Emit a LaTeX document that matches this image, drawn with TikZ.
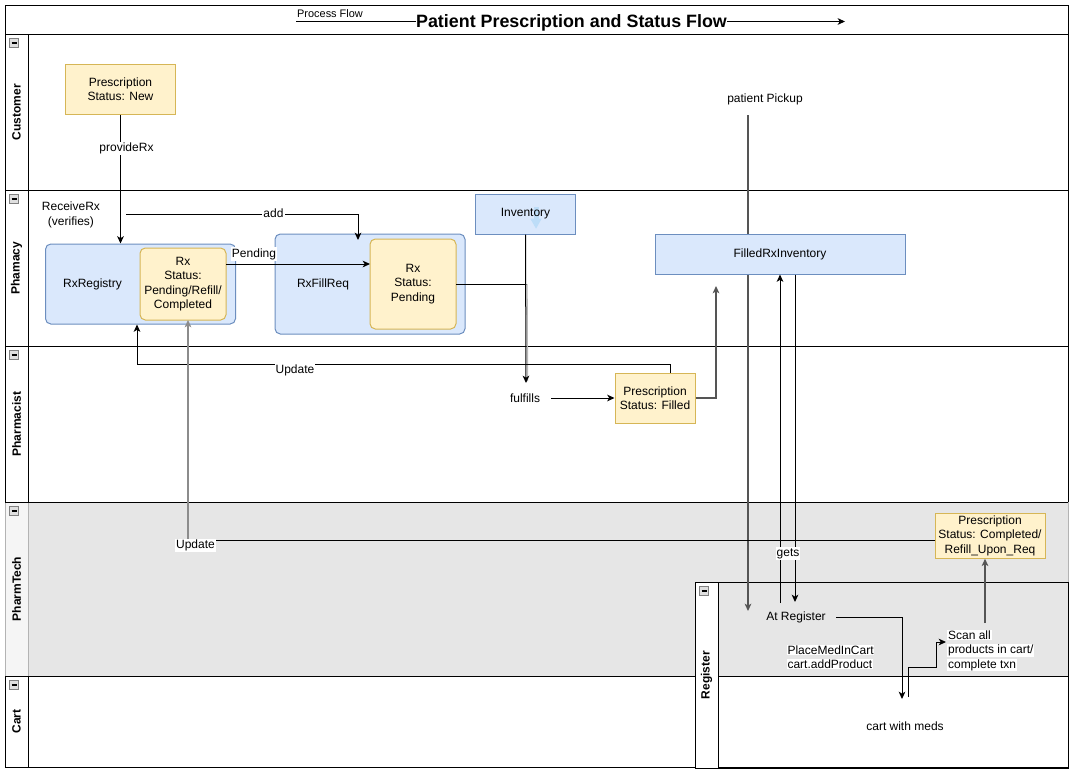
\documentclass[tikz,border=0pt]{standalone}
\usepackage{fontspec}
\setmainfont{Liberation Sans}
\usetikzlibrary{arrows.meta,calc}
\definecolor{yfill}{HTML}{FFF2CC}
\definecolor{ydraw}{HTML}{D6B656}
\definecolor{bfill}{HTML}{DAE8FC}
\definecolor{bdraw}{HTML}{6C8EBF}
\definecolor{techfill}{HTML}{E6E6E6}
\definecolor{techhead}{HTML}{F5F5F5}
\definecolor{techline}{HTML}{B3B3B3}
\definecolor{faintblue}{HTML}{BDDDF8}
\definecolor{midgray}{HTML}{8C8C8C}
\definecolor{darkgr}{HTML}{555555}
\newcommand\whitebg[1]{{\setlength{\fboxsep}{0.6pt}\colorbox{white}{#1}}}
\tikzset{
  collapsebox/.pic={
    \draw[draw=gray, fill=gray!25, line width=0.5pt] (-4.5,-4.5) rectangle (4.5,4.5);
    \draw[line width=1pt] (-2.5,0) -- (2.5,0);
  }
}
\begin{document}
\begin{tikzpicture}[x=0.75pt,y=-0.75pt,
  every node/.style={font=\fontsize{9}{10.8}\selectfont, inner sep=1pt},
  lane/.style={draw=black, line width=0.75pt},
  lanelabel/.style={rotate=90, font=\bfseries\fontsize{9}{10.8}\selectfont},
  arr/.style={-{Stealth[length=5.5pt,width=5pt,inset=1.5pt]}},
  conn/.style={draw=black, line width=0.75pt},
  grayconn/.style={draw=midgray, line width=1.5pt},
  dgconn/.style={draw=darkgr, line width=1pt},
  yellowbox/.style={draw=ydraw, fill=yfill, line width=0.75pt, align=center, inner sep=0pt},
  yellowround/.style={yellowbox, rounded corners=4pt},
  bluebox/.style={draw=bdraw, fill=bfill, line width=0.75pt, align=center, inner sep=0pt},
  blueround/.style={bluebox, rounded corners=4pt},
  lbl/.style={fill=white, inner sep=0.8pt},
  plain/.style={align=center, inner sep=0.5pt}
]
\useasboundingbox (0,0) rectangle (1074,782);
\fill[white] (0,0) rectangle (1074,782);

% ---------- title band ----------
\draw[lane] (5,5) rectangle (1068,34);

% ---------- lanes ----------
\draw[lane] (5,34) rectangle (1068,190);
\draw[lane] (28,34) -- (28,190);
\draw[lane] (5,190) rectangle (1068,346);
\draw[lane] (28,190) -- (28,346);
\draw[lane] (5,346) rectangle (1068,502);
\draw[lane] (28,346) -- (28,502);
% PharmTech (grey)
\draw[draw=techline, fill=techfill, line width=0.75pt] (5,502) rectangle (1068,676);
\draw[draw=techline, fill=techhead, line width=0.75pt] (5,502) rectangle (28,676);
\draw[lane] (5,502) -- (1068,502);
% Cart
\draw[lane] (5,676) rectangle (1068,767);
\draw[lane] (28,676) -- (28,767);
% Register pool
\draw[lane] (695,582) rectangle (1068,768);
\draw[lane, fill=white] (695,582) rectangle (718,768);

% collapse icons
\pic at (14,43) {collapsebox};
\pic at (14,199) {collapsebox};
\pic at (14,355) {collapsebox};
\pic at (14,511) {collapsebox};
\pic at (14,685) {collapsebox};
\pic at (704,591) {collapsebox};

% lane labels
\node[lanelabel] (lcust) at (16.5,112) {Customer};
\node[lanelabel] (lpham) at (16.5,268) {Phamacy};
\node[lanelabel] (lpharm) at (16.5,424) {Pharmacist};
\node[lanelabel] (ltech) at (16.5,589) {PharmTech};
\node[lanelabel] (lcart) at (16.5,721.5) {Cart};
\node[lanelabel] (lreg) at (706.5,675) {Register};

% ---------- title ----------
\node[inner sep=0pt, font=\bfseries\fontsize{13.4}{15}\selectfont] (title) at (571.5,23) {Patient Prescription and Status Flow};
\node[font=\fontsize{8.2}{9.5}\selectfont, inner sep=0pt] (pflabel) at (330,13.5) {Process Flow};
\coordinate (pfs) at (296,21.5);
\coordinate (pfe) at (845,21.5);
\draw[conn] (pfs) -- (title.west |- pfs);
\draw[conn,arr] (title.east |- pfe) -- (pfe);

% patient pickup line (drawn behind FilledRxInventory)
\coordinate (pk1) at (748,115);
\coordinate (pk2) at (748,611);
\draw[dgconn,arr] (pk1) -- (pk2);

% ---------- boxes ----------
\node[yellowbox, minimum width=82.5pt, minimum height=37.5pt] (newrx) at (120.5,89) {Prescription\\Status: New};
\node[blueround, minimum width=142.5pt, minimum height=60pt] (reg) at (140.5,284) {};
\node[plain] (regtext) at (92.5,284.5) {RxRegistry};
\node[yellowround, minimum width=64.5pt, minimum height=54pt] (rxa) at (183,284) {Rx\\Status:\\Pending/Refill/\\Completed};
\node[blueround, minimum width=142.5pt, minimum height=75pt] (fill) at (370,284) {};
\node[plain] (filltext) at (323,284.5) {RxFillReq};
\node[yellowround, minimum width=64.5pt, minimum height=67.5pt] (rxb) at (413,284) {Rx\\Status:\\Pending};
\node[bluebox, minimum width=75pt, minimum height=30pt,
      path picture={
        \fill[faintblue] ($(path picture bounding box.center)+(6pt,5pt)$) rectangle ($(path picture bounding box.center)+(9.75pt,-3.5pt)$);
        \fill[faintblue] ($(path picture bounding box.center)+(3.6pt,-3.5pt)$) -- ($(path picture bounding box.center)+(12.1pt,-3.5pt)$) -- ($(path picture bounding box.center)+(7.9pt,-11pt)$) -- cycle;
      }] (inv) at (525.5,214) {Inventory};
\node[bluebox, minimum width=187.5pt, minimum height=30pt] (fri) at (780,254) {FilledRxInventory};
\node[yellowbox, minimum width=60pt, minimum height=37.5pt] (filled) at (655,398) {Prescription\\Status: Filled};
\node[yellowbox, minimum width=82.5pt, minimum height=33.75pt] (comp) at (990,535.75) {Prescription\\Status: Completed/\\Refill\_Upon\_Req};

% free-standing texts
\node[plain] (receive) at (71,215) {ReceiveRx\\(verifies)};
\node[plain] (pickup) at (765,99.5) {patient Pickup};
\node[plain] (fulfills) at (525,398.5) {fulfills};
\node[plain] (atreg) at (796,617.5) {At Register};
\node[plain] (cartmeds) at (905,726.5) {cart with meds};

% ---------- connector coordinates ----------
\coordinate (addstart) at (126,214);
\coordinate (addcorner) at (358,214);
\coordinate (addend) at (358,240);
\coordinate (pendstart) at (226,264);
\coordinate (pendend) at (370,264);
\coordinate (rxbout) at (456,284);
\coordinate (joinpt) at (527,284);
\coordinate (joinend) at (527.5,381);
\coordinate (fultip) at (526,383);
\coordinate (fulstart) at (551,398);
\coordinate (fricorner) at (716,398);
\coordinate (fritip) at (716,286);
\coordinate (upd1a) at (670.5,364);
\coordinate (upd1b) at (137,364);
\coordinate (getsup) at (780,603);
\coordinate (getsdown) at (795,602);
\coordinate (upd2s) at (935,540.5);
\coordinate (upd2c) at (188,540.5);
\coordinate (upd2e) at (188,320);
\coordinate (regs) at (836,617);
\coordinate (regc) at (902,617);
\coordinate (rege) at (902,699);
\coordinate (cs1) at (908,697);
\coordinate (cs2) at (908,667);
\coordinate (cs3) at (936,667);
\coordinate (cs4) at (936,642);
\coordinate (cs5) at (946,642);
\coordinate (sc1) at (985,623);

% ---------- connectors ----------
% provideRx
\draw[conn,arr] (newrx.south) -- (newrx.south |- reg.north);
% add
\draw[conn,arr] (addstart) -- (addcorner) -- (addend);
% Pending
\draw[conn,arr] (pendstart) -- (pendend);
% RxFillReq inner -> fulfills
\draw[conn] (rxbout) -- (joinpt);
\draw[draw=gray!55, line width=1pt] (joinpt) -- (joinend);
\draw[conn,arr] (inv.south) -- (fultip);
% fulfills -> filled
\draw[conn,arr] (fulstart) -- (filled.west);
% filled -> FilledRxInventory
\draw[dgconn,arr] (filled.east) -- (fricorner) -- (fritip);
% Update (pharmacist)
\draw[conn,arr] ($(filled.north)+(15.5,0)$) -- (upd1a) -- (upd1b) -- (upd1b |- reg.south);
% Update (pharmtech)
\draw[conn] (upd2s) -- (upd2c);
\draw[grayconn,arr] (upd2c) -- (upd2e);
% gets
\draw[conn,arr] (getsup) -- (getsup |- fri.south);
\draw[conn,arr] (fri.south -| getsdown) -- (getsdown);
% At Register -> cart
\draw[conn,arr] (regs) -- (regc) -- (rege);
% cart -> scan
\draw[conn,arr] (cs1) -- (cs2) -- (cs3) -- (cs4) -- (cs5);
% scan -> completed
\draw[dgconn,arr] (sc1) -- (comp.south -| sc1);

% ---------- labels ----------
\node[lbl] (lprov) at (126.5,148.5) {provideRx};
\node[lbl] (ladd) at (273.5,213) {add};
\node[lbl] (lpend) at (254,254) {Pending};
\node[lbl] (lupd1) at (295,370) {Update};
\node[lbl] (lupd2) at (195.5,545.5) {Update};
\node[lbl] (lgets) at (788,553.5) {gets};
\node[anchor=west, align=left, inner sep=0pt] (lplace) at (786.5,657) {\whitebg{PlaceMedInCart}\\\whitebg{cart.addProduct}};
\node[anchor=west, align=left, inner sep=0pt] (scan) at (947,650.5) {\whitebg{Scan all}\\\whitebg{products in cart/}\\\whitebg{complete txn}};
\end{tikzpicture}
\end{document}
